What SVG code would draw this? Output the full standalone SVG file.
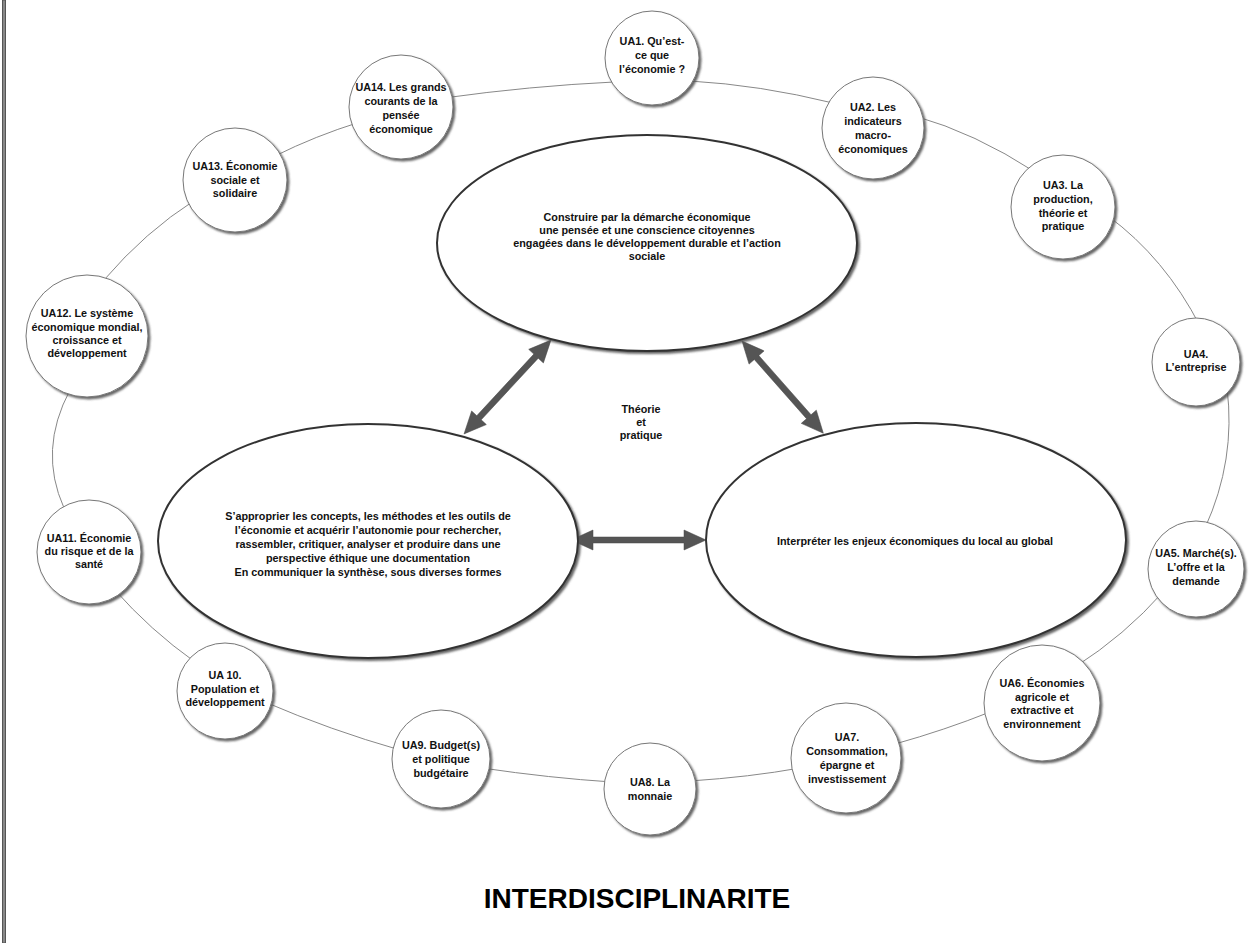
<svg xmlns="http://www.w3.org/2000/svg" width="1260" height="943" viewBox="0 0 1260 943">
<defs>
<filter id="sh" x="-10%" y="-10%" width="130%" height="130%">
<feDropShadow dx="2" dy="2" stdDeviation="0.8" flood-color="#555" flood-opacity="0.9"/>
</filter>
</defs>
<style>
text{font-family:"Liberation Sans",Arial,Helvetica,sans-serif;font-weight:bold;font-size:10.8px;fill:#111;text-anchor:middle}
.ua{fill:#fff;stroke:#777;stroke-width:1;filter:url(#sh)}
.big{fill:#fff;stroke:#333;stroke-width:2;filter:url(#sh)}
.con{fill:none;stroke:#888;stroke-width:1}
.arr{fill:#555;stroke:#444;stroke-width:0.5}
.title{font-size:28px;fill:#000}
</style>
<rect x="2.5" y="0" width="3" height="943" fill="#888" stroke="#555" stroke-width="1"/>

<g id="connectors">
<path class="con" d="M690,81 Q760,85 833,103"/>
<path class="con" d="M915,116 Q975,133 1035,172"/>
<path class="con" d="M1108,216 Q1165,258 1200,326"/>
<path class="con" d="M1227,388 Q1236,460 1205,528"/>
<path class="con" d="M1163,592 Q1125,635 1075,667"/>
<path class="con" d="M990,712 Q945,730 895,744"/>
<path class="con" d="M800,768 Q750,777 690,781"/>
<path class="con" d="M612,782 Q550,778 482,768"/>
<path class="con" d="M400,750 Q330,730 265,702"/>
<path class="con" d="M195,662 Q150,630 114,589"/>
<path class="con" d="M64,508 Q38,450 70,390"/>
<path class="con" d="M104,280 Q145,232 195,200"/>
<path class="con" d="M275,156 Q315,136 360,122"/>
<path class="con" d="M444,98 Q530,86 614,82"/>
<polygon class="arr" transform="translate(551,340) rotate(132.8)" points="0,0 22,-10 22,-3 106,-3 106,-10 128,0 106,10 106,3 22,3 22,10"/>
<polygon class="arr" transform="translate(742,341) rotate(48.6)" points="0,0 22,-10 22,-3 101,-3 101,-10 123,0 101,10 101,3 22,3 22,10"/>
<polygon class="arr" transform="translate(571,540)" points="0,0 22,-10 22,-3 113,-3 113,-10 135,0 113,10 113,3 22,3 22,10"/>
</g>

<g id="top">
<ellipse class="big" cx="647" cy="243" rx="210" ry="108"/>
<text x="647" y="221">Construire par la démarche économique</text>
<text x="647" y="234">une pensée et une conscience citoyennes</text>
<text x="647" y="247">engagées dans le développement durable et l’action</text>
<text x="647" y="260">sociale</text>
</g>
<g id="left">
<ellipse class="big" cx="368" cy="541" rx="210" ry="117"/>
<text x="368" y="520">S’approprier les concepts, les méthodes et les outils de</text>
<text x="368" y="534">l’économie et acquérir l’autonomie pour rechercher,</text>
<text x="368" y="548">rassembler, critiquer, analyser et produire dans une</text>
<text x="368" y="562">perspective éthique une documentation</text>
<text x="368" y="576">En communiquer la synthèse, sous diverses formes</text>
</g>
<g id="right">
<ellipse class="big" cx="916" cy="540" rx="210" ry="117"/>
<text x="915" y="545">Interpréter les enjeux économiques du local au global</text>
</g>
<g id="center-label">
<text x="641" y="413">Théorie</text>
<text x="641" y="426">et</text>
<text x="641" y="439">pratique</text>
</g>

<g id="ua1">
<circle class="ua" cx="652" cy="58" r="47"/>
<text x="652" y="45">UA1. Qu’est-</text>
<text x="652" y="59">ce que</text>
<text x="652" y="73">l’économie ?</text>
</g>
<g id="ua2">
<circle class="ua" cx="873" cy="128" r="51"/>
<text x="873" y="111">UA2. Les</text>
<text x="873" y="125">indicateurs</text>
<text x="873" y="139">macro-</text>
<text x="873" y="153">économiques</text>
</g>
<g id="ua3">
<circle class="ua" cx="1063" cy="207" r="52"/>
<text x="1063" y="189">UA3. La</text>
<text x="1063" y="203">production,</text>
<text x="1063" y="217">théorie et</text>
<text x="1063" y="230">pratique</text>
</g>
<g id="ua4">
<circle class="ua" cx="1196" cy="362" r="44"/>
<text x="1196" y="358">UA4.</text>
<text x="1196" y="371">L’entreprise</text>
</g>
<g id="ua5">
<circle class="ua" cx="1196" cy="569" r="48"/>
<text x="1196" y="557">UA5. Marché(s).</text>
<text x="1196" y="571">L’offre et la</text>
<text x="1196" y="585">demande</text>
</g>
<g id="ua6">
<circle class="ua" cx="1042" cy="703" r="58"/>
<text x="1042" y="687">UA6. Économies</text>
<text x="1042" y="701">agricole et</text>
<text x="1042" y="714">extractive et</text>
<text x="1042" y="728">environnement</text>
</g>
<g id="ua7">
<circle class="ua" cx="846" cy="758" r="55"/>
<text x="847" y="741">UA7.</text>
<text x="847" y="755">Consommation,</text>
<text x="847" y="769">épargne et</text>
<text x="847" y="783">investissement</text>
</g>
<g id="ua8">
<circle class="ua" cx="650" cy="789" r="46"/>
<text x="650" y="786">UA8. La</text>
<text x="650" y="800">monnaie</text>
</g>
<g id="ua9">
<circle class="ua" cx="441" cy="759" r="49"/>
<text x="441" y="749">UA9. Budget(s)</text>
<text x="441" y="763">et politique</text>
<text x="441" y="777">budgétaire</text>
</g>
<g id="ua10">
<circle class="ua" cx="225" cy="691" r="48"/>
<text x="225" y="679">UA 10.</text>
<text x="225" y="693">Population et</text>
<text x="225" y="706">développement</text>
</g>
<g id="ua11">
<circle class="ua" cx="89" cy="552" r="52"/>
<text x="89" y="542">UA11. Économie</text>
<text x="89" y="555">du risque et de la</text>
<text x="89" y="568">santé</text>
</g>
<g id="ua12">
<circle class="ua" cx="87" cy="336" r="61"/>
<text x="87" y="317">UA12. Le système</text>
<text x="87" y="331">économique mondial,</text>
<text x="87" y="344">croissance et</text>
<text x="87" y="357">développement</text>
</g>
<g id="ua13">
<circle class="ua" cx="235" cy="180" r="52"/>
<text x="235" y="170">UA13. Économie</text>
<text x="235" y="184">sociale et</text>
<text x="235" y="197">solidaire</text>
</g>
<g id="ua14">
<circle class="ua" cx="401" cy="107" r="52"/>
<text x="401" y="91">UA14. Les grands</text>
<text x="401" y="105">courants de la</text>
<text x="401" y="119">pensée</text>
<text x="401" y="133">économique</text>
</g>

<text class="title" x="637" y="908">INTERDISCIPLINARITE</text>
</svg>
